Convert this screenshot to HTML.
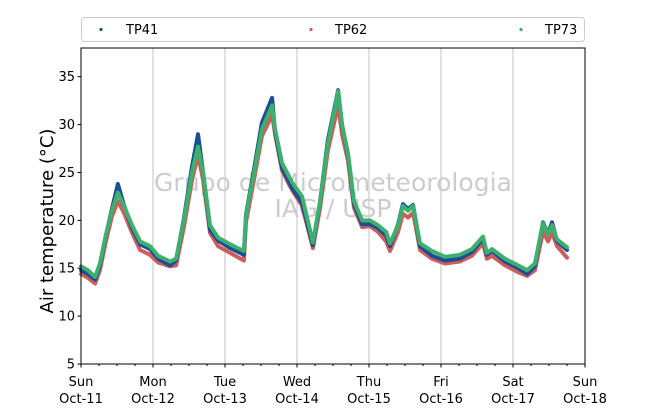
<!DOCTYPE html>
<html><head><meta charset="utf-8">
<style>
body{margin:0;background:#fff;}
svg text{font-family:"DejaVu Sans","Liberation Sans",sans-serif;}
</style></head>
<body>
<svg id="chart" width="650" height="409" xmlns="http://www.w3.org/2000/svg">
<rect width="650" height="409" fill="#fff"/>
<g id="grid"></g>
<g id="wm">
<text x="333" y="191" font-size="25" fill="#cccccc" text-anchor="middle" textLength="358">Grupo de Micrometeorologia</text>
<text x="333" y="217" font-size="25" fill="#cccccc" text-anchor="middle">IAG / USP</text>
</g>
<g id="series"></g>
<rect x="81" y="48" width="504" height="316" fill="none" stroke="#000" stroke-width="1"/>
<g id="axes"></g>
<text transform="translate(53,221) rotate(-90)" font-size="18" text-anchor="middle">Air temperature (°C)</text>
<g>
<rect x="81.5" y="17.5" width="503" height="24" rx="3" fill="#fff" stroke="#ccc"/>
<g><circle cx="101" cy="29.5" r="1.6" fill="#1a4f96"/><text x="126" y="34" font-size="13">TP41</text></g>
<g><circle cx="311" cy="29.5" r="1.6" fill="#d05c5c"/><text x="335" y="34" font-size="13">TP62</text></g>
<g><circle cx="521" cy="29.5" r="1.6" fill="#3cb06c"/><text x="545" y="34" font-size="13">TP73</text></g>
</g>
</svg>
<script>
const hours = [0,2.3,4.7,6.3,8.3,10.3,12.3,14.3,17,19.7,23,25.7,29.7,31.7,34.3,37,39,40.7,43,45.7,49.7,54.3,55,57.7,60.3,63.7,64.7,67,70.3,73.7,77.3,79.7,82.3,85.7,87,89,91,93.7,96.3,99,101.7,103,105.7,107.3,109,110.7,113,117,121.3,126.3,130.3,134,135.3,137,141.3,145.7,148.7,151.3,154,155.7,157,158.7,162];
const tp73 = [15.2,14.8,14.1,15.5,18.5,21,22.9,21.5,19.5,17.8,17.3,16.3,15.7,16,20,25,27.7,25,19.5,18.2,17.5,16.8,20.5,25,29.5,32,29.5,26,24,22.5,17.7,22,28,33.5,30,27,22,20,20,19.5,18.8,17.6,19.5,21.5,21,21.5,17.6,16.8,16.2,16.4,17,18.3,16.6,17,16,15.3,14.8,15.5,19.7,18.5,19.5,18,17.2];
const tp41 = [14.8,14.4,13.8,15.3,18.4,21.2,23.8,21.6,19.2,17.5,17,16,15.3,15.8,20.2,25.6,29,25,19,17.9,17.1,16.4,20.6,25.4,30.2,32.8,29.2,25.5,23.4,21.8,17.4,22,28.4,33.6,30,26.8,21.7,19.6,19.6,19.2,18.4,17.3,19.6,21.7,21.2,21.6,17.3,16.3,15.8,16,16.7,18.1,16.4,16.8,15.7,15,14.4,15.2,19.8,18.6,19.8,17.8,16.9];
const tp62 = [14.4,14,13.4,14.8,17.8,20.4,22,20.8,18.7,16.9,16.4,15.6,15.2,15.3,19.3,24.2,26.8,24.2,18.7,17.3,16.6,15.8,19.8,24.3,28.8,31,29,25.2,23.2,21.5,17.1,21.3,27.3,32,29,26.2,21.3,19.3,19.4,18.8,17.8,16.8,18.8,20.7,20.3,20.8,16.9,16,15.5,15.7,16.3,17.6,16,16.3,15.3,14.6,14.2,14.8,18.8,17.8,18.7,17.3,16.1];
const yTicks = [5,10,15,20,25,30,35];
const dayNames = ["Sun","Mon","Tue","Wed","Thu","Fri","Sat","Sun"];
const dayDates = ["Oct-11","Oct-12","Oct-13","Oct-14","Oct-15","Oct-16","Oct-17","Oct-18"];

const NS="http://www.w3.org/2000/svg";
const X0=81,X1=585,Y0=364,Y1=48;
function xs(h){return X0+h*(X1-X0)/168;}
function ys(v){return Y0-(v-5)*(Y0-Y1)/33;}
function mk(tag,attrs,parent){const e=document.createElementNS(NS,tag);for(const k in attrs)e.setAttribute(k,attrs[k]);parent.appendChild(e);return e;}
const grid=document.getElementById('grid'),axes=document.getElementById('axes'),series=document.getElementById('series');
for(let d=1;d<7;d++){const l=mk('line',{x1:xs(d*24),x2:xs(d*24),y1:Y1,y2:Y0,stroke:'#c0c0c0','stroke-width':1},grid);

}
for(let h=0;h<=168;h+=6){const major=h%24===0;const t=mk('line',{x1:xs(h),x2:xs(h),y1:Y0,y2:Y0+(major?3.5:2),stroke:'#000','stroke-width':1},axes);

}
dayNames.forEach((n,i)=>{const t=mk('text',{x:xs(i*24),y:386,'font-size':13,'text-anchor':'middle'},axes);t.textContent=n;


const t2=mk('text',{x:xs(i*24),y:403,'font-size':13,'text-anchor':'middle'},axes);t2.textContent=dayDates[i];

});
yTicks.forEach(v=>{const l=mk('line',{x1:X0-3.5,x2:X0,y1:ys(v),y2:ys(v),stroke:'#000'},axes);


const t=mk('text',{x:X0-6,y:ys(v)+4.5,'font-size':13,'text-anchor':'end'},axes);t.textContent=v;

});
function draw(vals,color,name){const pts=hours.map((h,i)=>xs(h).toFixed(1)+','+ys(vals[i]).toFixed(1)).join(' ');
const p=mk('polyline',{points:pts,fill:'none',stroke:color,'stroke-width':4,'stroke-linejoin':'round','stroke-linecap':'round'},series);

}
draw(tp62,'#d05c5c','series-tp62');
draw(tp41,'#1a4f96','series-tp41');
draw(tp73,'#3cb06c','series-tp73');
</script>
</body></html>
